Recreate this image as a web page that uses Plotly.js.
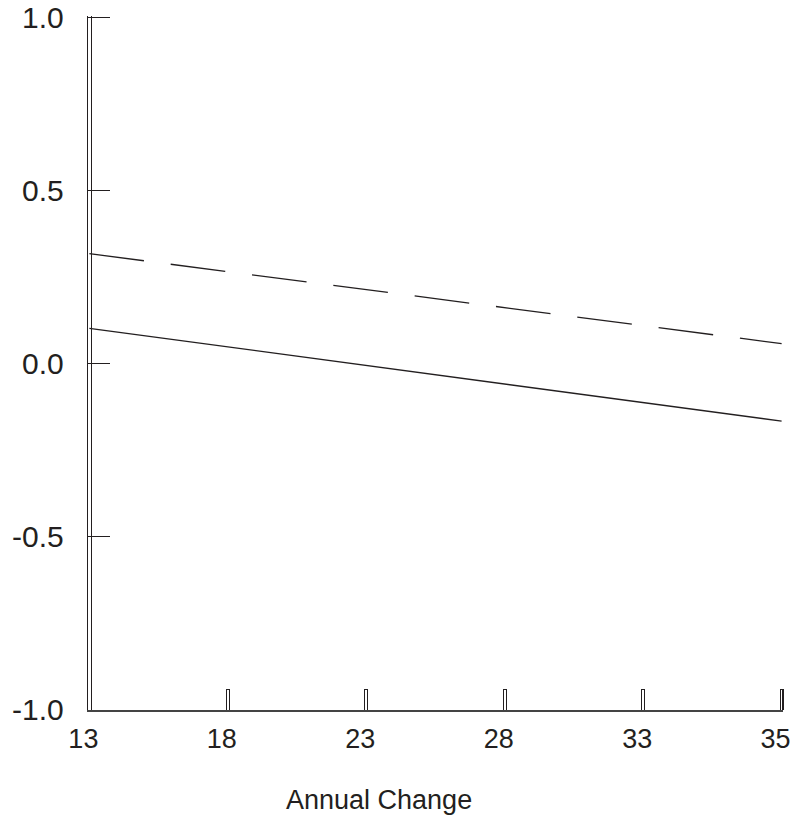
<!DOCTYPE html>
<html>
<head>
<meta charset="utf-8">
<script src="https://cdn.plot.ly/plotly-3.0.1.min.js"></script>
<style>
  html, body { margin: 0; padding: 0; background: #fff; }
  #chart { width: 800px; height: 823px; }
</style>
</head>
<body>
<div id="chart"></div>
<script>
// x axis categories (evenly spaced in the source figure)
const xCategories = ['13', '18', '23', '28', '33', '35'];
const yTicks = [-1.0, -0.5, 0.0, 0.5, 1.0];
const yTickLabels = ['-1.0', '-0.5', '0.0', '0.5', '1.0'];

// line end points
const lineX = ['13', '35'];
const solidY = [0.101, -0.167];
const dashedY = [0.317, 0.057];

const ink = '#231f20';
const fontFamily = 'Liberation Sans, Arial, sans-serif';

// small padding so the end ticks are not clipped away
const xRange = [-0.01, xCategories.length - 1 + 0.01];
const yRange = [-1.002, 1.004];

const data = [
    {
        x: lineX,
        y: dashedY,
        type: 'scatter',
        mode: 'lines',
        line: { color: ink, width: 1.3, dash: '55px,27px' },
        hoverinfo: 'skip'
    },
    {
        x: lineX,
        y: solidY,
        type: 'scatter',
        mode: 'lines',
        line: { color: ink, width: 1.3 },
        hoverinfo: 'skip'
    },
    // empty trace so the overlay axes get drawn
    {
        x: [], y: [],
        xaxis: 'x2', yaxis: 'y2',
        type: 'scatter', mode: 'lines',
        hoverinfo: 'skip'
    }
];

const layout = {
    width: 800,
    height: 823,
    margin: { l: 88, r: 17, t: 16, b: 113 },
    paper_bgcolor: '#fff',
    plot_bgcolor: '#fff',
    showlegend: false,
    font: { family: fontFamily, color: ink },
    // black ticks (no tick at 13, it sits on the y axis)
    xaxis: {
        type: 'category',
        categoryorder: 'array',
        categoryarray: xCategories,
        range: xRange,
        tickmode: 'array',
        tickvals: xCategories.slice(1),
        showgrid: false,
        zeroline: false,
        showline: true,
        linecolor: '#444',
        linewidth: 1.5,
        ticks: 'inside',
        ticklen: 21,
        tickwidth: 4,
        tickcolor: ink,
        showticklabels: false,
        fixedrange: true
    },
    // white overlay ticks make the x ticks look like double lines; also carries the labels
    xaxis2: {
        type: 'category',
        categoryorder: 'array',
        categoryarray: xCategories,
        range: xRange,
        overlaying: 'x',
        anchor: 'y',
        side: 'bottom',
        showgrid: false,
        zeroline: false,
        showline: false,
        ticks: 'inside',
        ticklen: 20,
        tickwidth: 1.6,
        tickcolor: '#fff',
        tickfont: { size: 27, color: ink },
        ticklabelstandoff: 10,
        ticklabelshift: -6,
        fixedrange: true
    },
    yaxis: {
        range: yRange,
        tickvals: yTicks,
        ticktext: yTickLabels,
        showgrid: false,
        zeroline: false,
        showline: true,
        linecolor: ink,
        linewidth: 1.2,
        ticks: 'inside',
        ticklen: 22,
        tickwidth: 1.3,
        tickcolor: ink,
        tickfont: { size: 30, color: ink },
        ticklabelstandoff: 17,
        fixedrange: true
    },
    // second thin line just right of the y axis gives the double line
    yaxis2: {
        range: yRange,
        overlaying: 'y',
        anchor: 'free',
        position: 0.0037,
        side: 'left',
        showgrid: false,
        zeroline: false,
        showline: true,
        linecolor: ink,
        linewidth: 1.2,
        showticklabels: false,
        ticks: '',
        fixedrange: true
    },
    annotations: [
        {
            text: 'Annual Change',
            xref: 'paper', yref: 'paper',
            x: 0.418, y: -0.13,
            xanchor: 'center', yanchor: 'middle',
            showarrow: false,
            font: { size: 27, color: ink, family: fontFamily }
        }
    ]
};

Plotly.newPlot('chart', data, layout, { displayModeBar: false, staticPlot: true });
</script>
</body>
</html>
